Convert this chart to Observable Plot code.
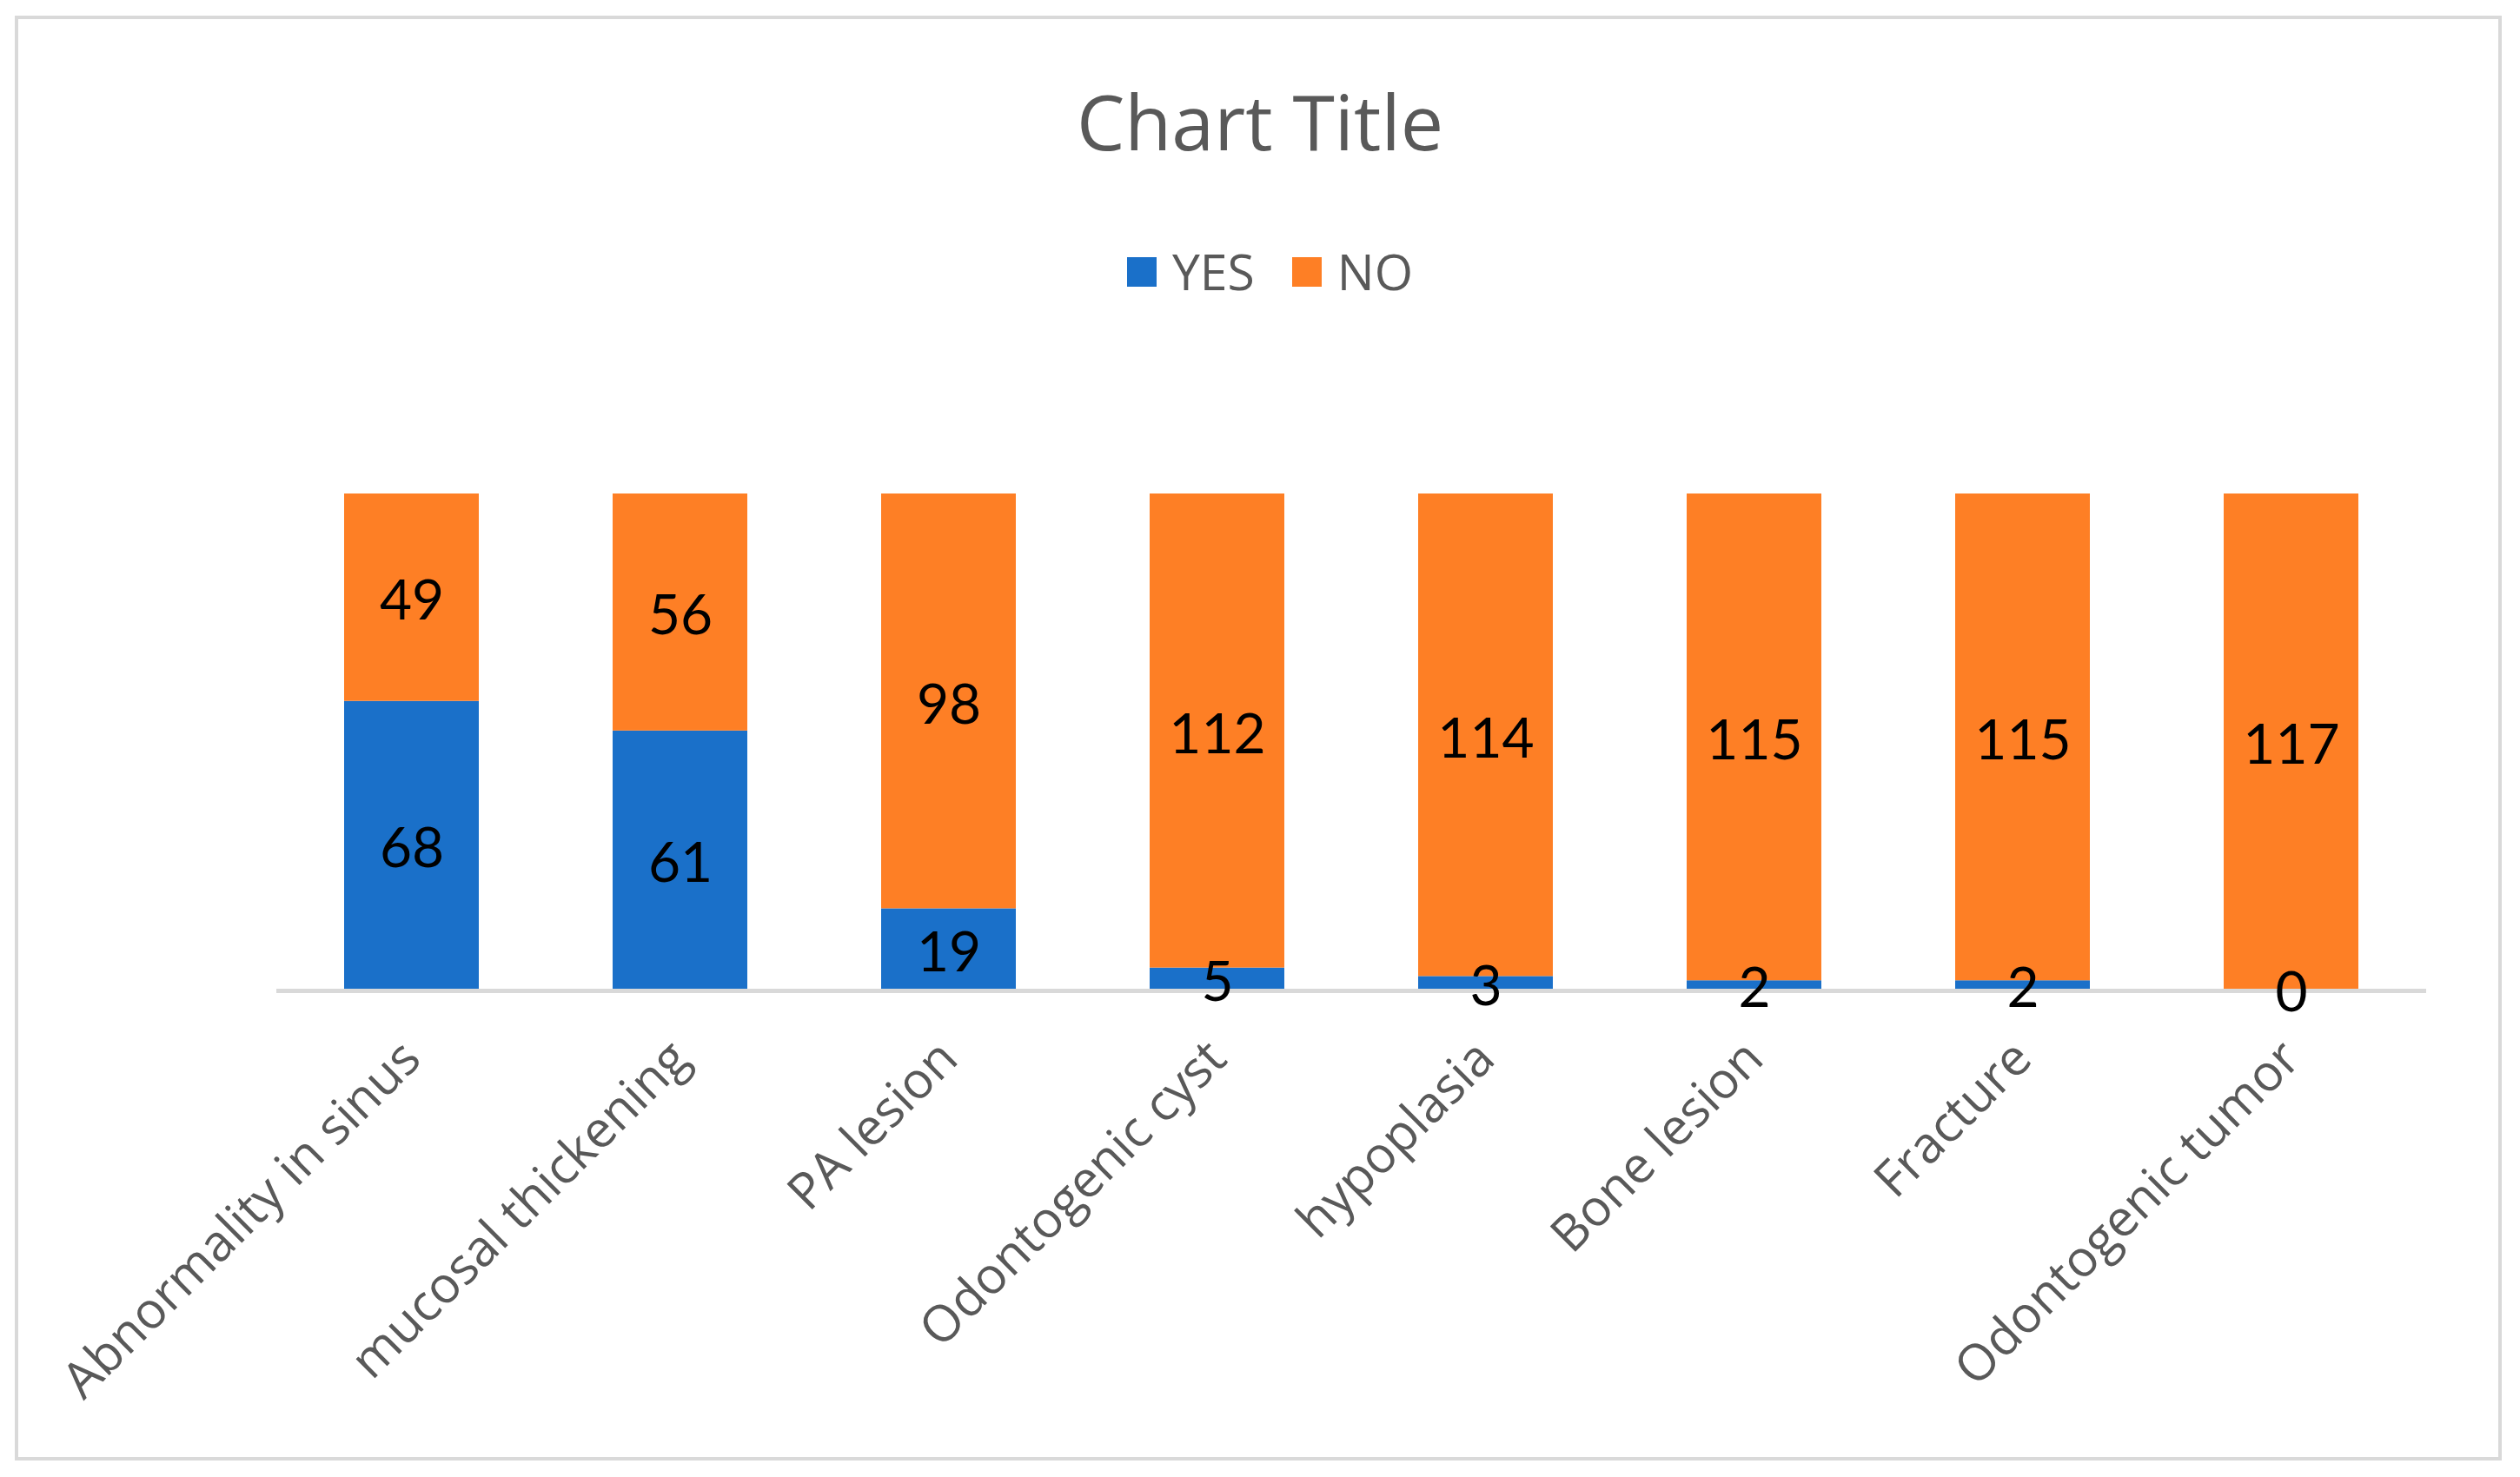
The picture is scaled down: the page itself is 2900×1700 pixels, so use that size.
<!DOCTYPE html>
<html>
<head>
<meta charset="utf-8">
<script src="https://cdn.jsdelivr.net/npm/d3@7"></script>
<script src="https://cdn.jsdelivr.net/npm/@observablehq/plot@0.6"></script>
<style>
  html, body { margin: 0; padding: 0; background: #ffffff; }
  #wrap { position: relative; width: 2900px; height: 1700px; overflow: hidden; background: #ffffff; font-family: "Open Sans", sans-serif; }
  #frame { position: absolute; left: 17px; top: 18px; width: 2862px; height: 1663px; border: 4px solid #d9d9d9; box-sizing: border-box; pointer-events: none; }
  #title { position: absolute; left: 0; top: 95px; width: 2900px; text-align: center; font-size: 88px; line-height: 88px; color: #595959; white-space: nowrap; }
  #legend { position: absolute; left: 26px; top: 284px; width: 2914px; display: flex; justify-content: center; }
  #legend .lg-swatches { font-family: "Open Sans", sans-serif !important; font-size: 57px !important; color: #595959 !important; margin: 0 !important; display: flex; align-items: center; }
  #legend .lg-swatches > span, #legend .lg-swatches .lg-swatch { display: inline-flex; align-items: center; margin-right: 43px !important; line-height: 1; }
  #legend svg { margin-right: 18px !important; }
  #chart { position: absolute; left: 0; top: 400px; }
</style>
</head>
<body>
<div id="wrap">
  <div id="title">Chart Title</div>
  <div id="legend"></div>
  <div id="chart"></div>
  <div id="frame"></div>
</div>
<script>
const categories = ["Abnormality in sinus", "mucosal thickening", "PA lesion", "Odontogenic cyst", "hypoplasia", "Bone lesion", "Fracture", "Odontogenic tumor"];
const yesValues = [68, 61, 19, 5, 3, 2, 2, 0];
const noValues = [49, 56, 98, 112, 114, 115, 115, 117];
const seriesNames = ["YES", "NO"];
const seriesColors = ["#1a70c9", "#fe7f25"];

const seriesValues = [yesValues, noValues];
const rows = seriesNames.flatMap((s, si) =>
  categories.map((c, i) => ({category: c, series: s, value: seriesValues[si][i]}))
);

const chart = Plot.plot({
  width: 2900,
  height: 1300,
  marginLeft: 318,
  marginRight: 108,
  marginTop: 168,
  marginBottom: 562,
  style: {background: "transparent", fontFamily: "Open Sans, sans-serif", overflow: "visible"},
  x: {domain: categories, paddingInner: 0.5, paddingOuter: 0.25, label: null},
  y: {domain: [0, 117], axis: null},
  color: {domain: seriesNames, range: seriesColors},
  marks: [
    Plot.ruleY([0], {stroke: "#d9d9d9", strokeWidth: 5, dy: 2}),
    Plot.barY(rows, {x: "category", y: "value", fill: "series"}),
    Plot.text(rows, Plot.stackY({
      x: "category", y: "value", z: "series",
      text: d => String(d.value),
      fontSize: 64, fill: "#000000", fontFamily: "Lato, sans-serif", dy: 5
    })),
    Plot.axisX({tickSize: 0, tickRotate: -45, tickPadding: 70, fontSize: 58, fill: "#595959", label: null})
  ]
});
document.getElementById("chart").appendChild(chart);

const legend = chart.legend("color", {legend: "swatches", swatchSize: 34, className: "lg"});
document.getElementById("legend").appendChild(legend);
</script>
</body>
</html>
